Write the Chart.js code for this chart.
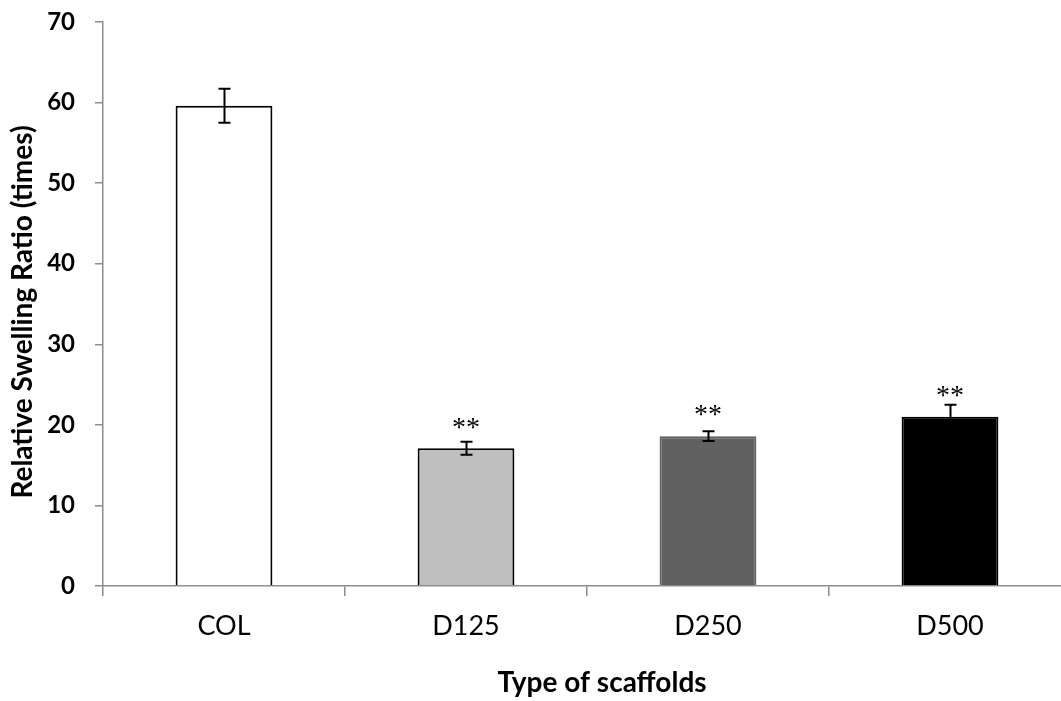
<!DOCTYPE html>
<html>
<head>
<meta charset="utf-8">
<script src="https://cdn.jsdelivr.net/npm/chart.js@4.4.1/dist/chart.umd.min.js"></script>
<style>
  html, body { margin: 0; padding: 0; background: #ffffff; overflow: hidden; }
  #wrap { position: absolute; left: 0; top: 0; width: 1080px; height: 701px; }
</style>
</head>
<body>
<div id="wrap"><canvas id="chart" width="1080" height="701"></canvas></div>
<script>
// Scaffold groups and their measured swelling ratios
const categories = ['COL', 'D125', 'D250', 'D500'];
const swellingRatio = [59.6, 17.1, 18.6, 21.0];
const errorSD = [2.1, 0.8, 0.6, 1.5];
const significance = ['', '**', '**', '**'];
const yTickMin = 0;
const yTickMax = 70;
const yTickStep = 10;

const barFills = ['#ffffff', '#bfbfbf', '#606060', '#000000'];
const barEdges = ['#000000', '#000000', '#606060', '#000000'];
const axisGray = '#8c8c8c';

// Vertical error bars (mean ± SD) drawn on top of each bar
const errorBarPlugin = {
  id: 'errorBars',
  afterDatasetsDraw(chart) {
    const ctx = chart.ctx;
    const meta = chart.getDatasetMeta(0);
    const y = chart.scales.y;
    ctx.save();
    ctx.strokeStyle = '#000000';
    ctx.lineWidth = 2;
    meta.data.forEach((bar, i) => {
      const v = swellingRatio[i], e = errorSD[i];
      const x = Math.round(bar.x) + 0.5;
      const top = y.getPixelForValue(v + e);
      const bot = y.getPixelForValue(v - e);
      ctx.beginPath();
      ctx.moveTo(x, top); ctx.lineTo(x, bot);
      ctx.moveTo(x - 6, top); ctx.lineTo(x + 6, top);
      ctx.moveTo(x - 6, bot); ctx.lineTo(x + 6, bot);
      ctx.stroke();
    });
    ctx.restore();
  }
};

// Significance marks above the bars
const significancePlugin = {
  id: 'significance',
  afterDatasetsDraw(chart) {
    const ctx = chart.ctx;
    const meta = chart.getDatasetMeta(0);
    ctx.save();
    ctx.fillStyle = '#000000';
    ctx.font = '28px "Liberation Serif"';
    ctx.textAlign = 'center';
    ctx.textBaseline = 'middle';
    meta.data.forEach((bar, i) => {
      if (!significance[i]) return;
      ctx.fillText(significance[i], bar.x, bar.y - 20);
    });
    ctx.restore();
  }
};

// Axis titles
const axisTitlePlugin = {
  id: 'axisTitles',
  afterDraw(chart) {
    const ctx = chart.ctx;
    ctx.save();
    ctx.fillStyle = '#000000';
    ctx.textAlign = 'center';
    ctx.textBaseline = 'middle';
    ctx.font = 'bold 28px Lato';
    ctx.fillText('Type of scaffolds', 602, 683);
    ctx.translate(23, 312);
    ctx.rotate(-Math.PI / 2);
    ctx.fillText('Relative Swelling Ratio (times)', 0, 0);
    ctx.restore();
  }
};

new Chart(document.getElementById('chart'), {
  type: 'bar',
  data: {
    labels: categories,
    datasets: [{
      data: swellingRatio,
      backgroundColor: barFills,
      borderColor: barEdges,
      borderWidth: 2,
      borderSkipped: 'start',
      categoryPercentage: 1.0,
      barPercentage: 0.4
    }]
  },
  options: {
    responsive: false,
    animation: false,
    devicePixelRatio: 1,
    layout: { padding: { top: 22, right: 9, left: 0, bottom: 0 } },
    plugins: {
      legend: { display: false },
      tooltip: { enabled: false }
    },
    scales: {
      x: {
        afterFit(scale) { scale.height = 115; },
        grid: {
          display: true,
          offset: true,
          drawOnChartArea: false,
          drawTicks: true,
          tickLength: 10,
          color: axisGray,
          lineWidth: 1.5
        },
        border: { display: true, color: axisGray, width: 1.5 },
        ticks: {
          color: '#000000',
          padding: 14,
          font: { family: 'Lato', size: 27 }
        }
      },
      y: {
        min: yTickMin,
        max: yTickMax,
        afterFit(scale) {
          scale.width = 103;
          scale.paddingTop = 0;
          scale.paddingBottom = 0;
        },
        grid: {
          display: true,
          drawOnChartArea: false,
          drawTicks: true,
          tickLength: 8,
          color: axisGray,
          lineWidth: 1.5
        },
        border: { display: true, color: axisGray, width: 1.5 },
        ticks: {
          stepSize: yTickStep,
          color: '#000000',
          padding: 20,
          font: { family: 'Lato', size: 24, weight: 'bold' }
        }
      }
    }
  },
  plugins: [errorBarPlugin, significancePlugin, axisTitlePlugin]
});
</script>
</body>
</html>
